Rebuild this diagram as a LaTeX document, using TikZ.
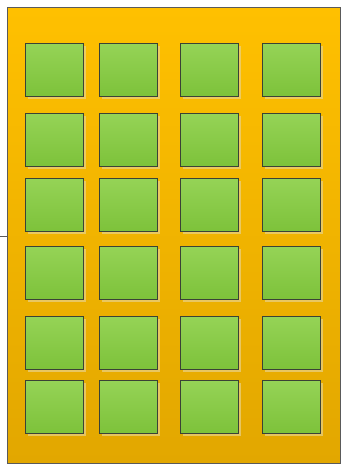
\documentclass[tikz,border=0pt]{standalone}
\usetikzlibrary{positioning}
\definecolor{frameline}{HTML}{5A5A5A}
\definecolor{orangetop}{HTML}{FFC000}
\definecolor{orangebot}{HTML}{E2A700}
\definecolor{greentop}{HTML}{95D356}
\definecolor{greenbot}{HTML}{7DC23A}
\definecolor{boxline}{HTML}{3A4236}
\definecolor{shade}{HTML}{E8D28A}
\tikzset{
  frame/.style={draw=frameline, line width=1pt, top color=orangetop, bottom color=orangebot,
    minimum width=333pt, minimum height=456pt, inner sep=0pt, anchor=north west},
  cell/.style={draw=boxline, line width=1.4pt, top color=greentop, bottom color=greenbot,
    minimum width=58pt, minimum height=53pt, inner sep=0pt, anchor=north west},
  cellshade/.style={fill=shade, fill opacity=0.7, draw=none,
    minimum width=58pt, minimum height=53pt, inner sep=0pt, anchor=north west},
  link/.style={draw=frameline, line width=1pt}
}
\begin{document}
\begin{tikzpicture}[x=1pt,y=-1pt]
\useasboundingbox (0,0) rectangle (341,464);
\node[frame] (F) at (7,7) {};
\coordinate (L) at (0,236);
\draw[link] (L) -- (L -| F.west);
\foreach \c/\x in {1/25,2/99,3/180,4/262}{
  \foreach \r/\y in {1/43,2/113,3/178,4/246,5/316,6/380}{
    \node[cellshade] (s\r\c) at (\x+3,\y+3) {};
    \node[cell] (c\r\c) at (\x,\y) {};
  }
}
\end{tikzpicture}
\end{document}
